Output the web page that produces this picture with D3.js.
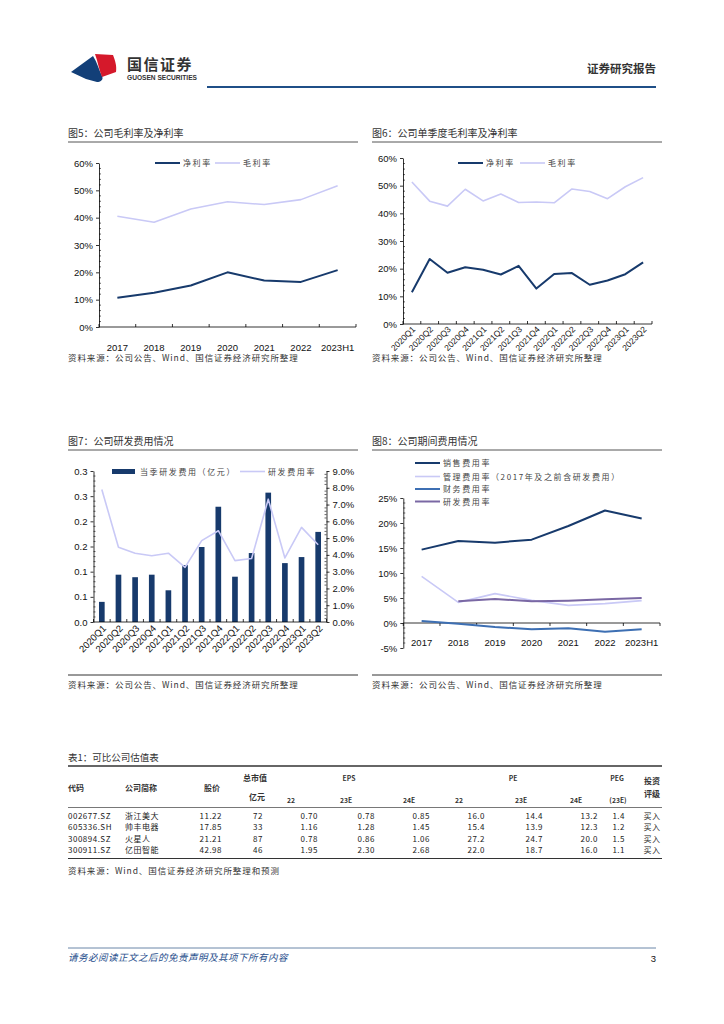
<!DOCTYPE html>
<html>
<head>
<meta charset="utf-8">
<script src="https://cdn.jsdelivr.net/npm/d3@7"></script>
<style>
body { margin: 0; background: #fff; }
</style>
</head>
<body>
<script>
// ---- data ----
const years = ['2017', '2018', '2019', '2020', '2021', '2022', '2023H1'];
const quarters = ['2020Q1', '2020Q2', '2020Q3', '2020Q4', '2021Q1', '2021Q2', '2021Q3',
    '2021Q4', '2022Q1', '2022Q2', '2022Q3', '2022Q4', '2023Q1', '2023Q2'];

// fig 5
const netMargin = [0.107, 0.125, 0.152, 0.200, 0.170, 0.165, 0.208];
const grossMargin = [0.405, 0.383, 0.432, 0.458, 0.448, 0.466, 0.517];

// fig 6
const qGrossMargin = [0.513, 0.444, 0.426, 0.487, 0.445, 0.470, 0.439, 0.441, 0.438, 0.488, 0.479, 0.453, 0.496, 0.529];
const qNetMargin = [0.115, 0.235, 0.185, 0.205, 0.196, 0.179, 0.210, 0.128, 0.181, 0.184, 0.142, 0.157, 0.180, 0.223];

// fig 7
const rdExpense = [0.040, 0.094, 0.089, 0.094, 0.063, 0.113, 0.149, 0.229, 0.090, 0.137, 0.257, 0.117, 0.129, 0.179];
const rdRate = [0.079, 0.0445, 0.041, 0.0395, 0.041, 0.0326, 0.0485, 0.0544, 0.0366, 0.0378, 0.0732, 0.0382, 0.0564, 0.046];
const rdLeftTicks = [0, 0.05, 0.10, 0.15, 0.20, 0.25, 0.30];
const rdLeftLabels = ['0.0', '0.1', '0.1', '0.2', '0.2', '0.3', '0.3'];

// fig 8
const sellRate = [0.1467, 0.164, 0.1607, 0.1667, 0.194, 0.225, 0.209];
const adminRate = [0.0933, 0.0413, 0.0587, 0.0453, 0.0353, 0.0387, 0.0447];
const finRate = [0.004, -0.0013, -0.008, -0.0127, -0.0107, -0.0173, -0.0127];
const rdRateYear = [null, 0.0433, 0.048, 0.0433, 0.0447, 0.0473, 0.050];

// table 1
const codes = ['002677.SZ', '605336.SH', '300894.SZ', '300911.SZ'];
const names = ['浙江美大', '帅丰电器', '火星人', '亿田智能'];
const prices = ['11.22', '17.85', '21.21', '42.98'];
const mktCap = ['72', '33', '87', '46'];
const eps22 = ['0.70', '1.16', '0.78', '1.95'];
const eps23 = ['0.78', '1.28', '0.86', '2.30'];
const eps24 = ['0.85', '1.45', '1.06', '2.68'];
const pe22 = ['16.0', '15.4', '27.2', '22.0'];
const pe23 = ['14.4', '13.9', '24.7', '18.7'];
const pe24 = ['13.2', '12.3', '20.0', '16.0'];
const peg = ['1.4', '1.2', '1.5', '1.1'];
const rating = ['买入', '买入', '买入', '买入'];

const CJK = '"Noto Sans CJK SC", sans-serif';
const LAT = '"Liberation Sans", Arial, sans-serif';
const navy = '#173a6c';
const lav = '#c9c9f6';
const source = '资料来源：公司公告、Wind、国信证券经济研究所整理';

const svg = d3.select('body').append('svg')
    .attr('width', 724)
    .attr('height', 1024);

function text(x, y, s, o = {}) {
    return svg.append('text')
        .attr('x', x).attr('y', y)
        .attr('font-family', o.font || CJK)
        .attr('font-size', o.size || 9)
        .attr('font-weight', o.weight || 'normal')
        .attr('font-style', o.style || 'normal')
        .attr('letter-spacing', o.ls || 0)
        .attr('text-anchor', o.anchor || 'start')
        .attr('fill', o.fill || '#222')
        .text(s);
}

function hline(x1, x2, y, color, w) {
    svg.append('line')
        .attr('x1', x1).attr('x2', x2).attr('y1', y).attr('y2', y)
        .attr('stroke', color).attr('stroke-width', w);
}

function title(x, y, w, s) {
    text(x, y, s, {size: 10, fill: '#333'});
    hline(x, x + w, y + 5, '#555', 1);
}

function yAxis(scale, x, values, fmt, side) {
    const ax = (side === 'right' ? d3.axisRight(scale) : d3.axisLeft(scale))
        .tickValues(values).tickFormat(fmt)
        .tickSize(3).tickSizeOuter(0).tickPadding(3);
    const g = svg.append('g').attr('transform', `translate(${x},0)`).call(ax);
    g.selectAll('text').attr('font-family', LAT).attr('font-size', 9.5).attr('fill', '#111');
    g.selectAll('line,path').attr('stroke', '#000').attr('stroke-width', 0.8);
    const step = (values[1] - values[0]) / 5;
    for (let i = 0; i < values.length - 1; i++) {
        for (let k = 1; k < 5; k++) {
            const v = scale(values[i] + k * step);
            g.append('line')
                .attr('x1', 0).attr('x2', side === 'right' ? -2 : 2)
                .attr('y1', v).attr('y2', v)
                .attr('stroke', '#000').attr('stroke-width', 0.6);
        }
    }
    return g;
}

function xAxis(scale, y, labelY, rotate, tickDir, fs, shift) {
    const r = scale.range();
    hline(r[0], r[1], y, '#000', 0.8);
    scale.domain().forEach(d => {
        svg.append('line')
            .attr('x1', scale(d)).attr('x2', scale(d))
            .attr('y1', y).attr('y2', y + 3 * tickDir)
            .attr('stroke', '#000').attr('stroke-width', 0.8);
    });
    svg.append('line')
        .attr('x1', r[1]).attr('x2', r[1])
        .attr('y1', y).attr('y2', y + 3 * tickDir)
        .attr('stroke', '#000').attr('stroke-width', 0.8);
    const g = svg.append('g')
        .attr('transform', `translate(0, ${labelY})`)
        .call(d3.axisBottom(scale).tickSize(0).tickPadding(0));
    g.select('.domain').remove();
    g.selectAll('text')
        .attr('font-family', LAT).attr('font-size', fs).attr('fill', '#111');
    if (rotate) {
        g.selectAll('text')
            .attr('dy', 0).attr('y', 0)
            .attr('transform', `translate(${shift[0]},${shift[1]}) rotate(-45)`)
            .style('text-anchor', 'end');
    }
}

function drawLine(x, y, data, cats, color, w) {
    const line = d3.line()
        .defined(d => d.v !== null)
        .x(d => x(d.c) + x.bandwidth() / 2)
        .y(d => y(d.v));
    svg.append('path')
        .datum(cats.map((c, i) => ({c: c, v: data[i]})))
        .attr('d', line)
        .attr('fill', 'none')
        .attr('stroke', color)
        .attr('stroke-width', w)
        .attr('stroke-linejoin', 'round');
}

function legendLine(x, y, color, w, label) {
    svg.append('line')
        .attr('x1', x).attr('x2', x + 25).attr('y1', y).attr('y2', y)
        .attr('stroke', color).attr('stroke-width', w);
    text(x + 28, y + 3, label, {size: 8, fill: '#444', ls: 1.6});
}

const pct0 = d => Math.round(d * 100) + '%';

// ---- header ----
svg.append('path')
    .attr('d', 'M71,72 L93,56 C97,62 99,70 102,76 C104,80 100,82 97,82 L86,79 Z')
    .attr('fill', '#123f78');
svg.append('path')
    .attr('d', 'M95,54 L113,55 C115,60 117,66 116,72 L102,77 C99,70 98,62 95,54 Z')
    .attr('fill', '#d5192b');
text(127, 70, '国信证券', {size: 15, fill: '#333', weight: 'bold', ls: 1.5});
text(127, 80, 'GUOSEN SECURITIES', {font: LAT, size: 6.6, fill: '#333', weight: 'bold'});
text(656, 73, '证券研究报告', {size: 11.5, weight: 'bold', anchor: 'end', fill: '#333'});
hline(207, 656, 87, '#1f4f87', 1.8);

// ---- fig 5 ----
title(68, 137, 290, '图5：公司毛利率及净利率');
{
    const x = d3.scaleBand().domain(years).range([99, 356]);
    const y = d3.scaleLinear().domain([0, 0.6]).range([327, 163]);
    yAxis(y, 99, d3.range(0, 0.61, 0.1), pct0);
    xAxis(x, 327, 344, false, -1, 9.5);
    drawLine(x, y, grossMargin, years, lav, 1.6);
    drawLine(x, y, netMargin, years, navy, 2);
    legendLine(155, 163, navy, 2, '净利率');
    legendLine(215, 163, lav, 1.6, '毛利率');
}
text(68, 361, source, {size: 8.5, fill: '#333', ls: 0.9});

// ---- fig 6 ----
title(372, 137, 290, '图6：公司单季度毛利率及净利率');
{
    const x = d3.scaleBand().domain(quarters).range([403, 652]);
    const y = d3.scaleLinear().domain([0, 0.6]).range([324, 158]);
    yAxis(y, 403, d3.range(0, 0.61, 0.1), pct0);
    xAxis(x, 324, 324, true, -1, 8.5, [4, 6]);
    drawLine(x, y, qGrossMargin, quarters, lav, 1.6);
    drawLine(x, y, qNetMargin, quarters, navy, 2);
    legendLine(458, 163, navy, 2, '净利率');
    legendLine(520, 163, lav, 1.6, '毛利率');
}
text(372, 361, source, {size: 8.5, fill: '#333', ls: 0.9});

// ---- fig 7 ----
title(68, 445, 290, '图7：公司研发费用情况');
{
    const x = d3.scaleBand().domain(quarters).range([93.5, 326.5]);
    const yL = d3.scaleLinear().domain([0, 0.30]).range([622, 471]);
    const yR = d3.scaleLinear().domain([0, 0.09]).range([622, 471]);
    yAxis(yL, 93.5, rdLeftTicks, (d, i) => rdLeftLabels[i]);
    yAxis(yR, 326.5, d3.range(0, 0.0901, 0.01), d3.format('.1%'), 'right');
    const bw = x.step() * 0.34;
    svg.append('g').selectAll('rect')
        .data(quarters)
        .enter()
        .append('rect')
        .attr('x', (d, i) => x(d) + x.bandwidth() / 2 - bw / 2)
        .attr('y', (d, i) => yL(rdExpense[i]))
        .attr('width', bw)
        .attr('height', (d, i) => 622 - yL(rdExpense[i]))
        .attr('fill', navy);
    xAxis(x, 622, 622, true, -1, 9.5, [5, 7]);
    drawLine(x, yR, rdRate, quarters, lav, 1.6);
    svg.append('rect')
        .attr('x', 112).attr('y', 469).attr('width', 23).attr('height', 5)
        .attr('fill', navy);
    text(140, 474.5, '当季研发费用（亿元）', {size: 8, fill: '#444', ls: 1.6});
    legendLine(240, 471.5, lav, 1.6, '研发费用率');
}
hline(68, 358, 675, '#333', 1);
text(68, 688, source, {size: 8.5, fill: '#333', ls: 0.9});

// ---- fig 8 ----
title(372, 445, 290, '图8：公司期间费用情况');
{
    const x = d3.scaleBand().domain(years).range([403.3, 660]);
    const y = d3.scaleLinear().domain([-0.05, 0.25]).range([648, 498]);
    yAxis(y, 403.3, d3.range(-0.05, 0.251, 0.05), pct0);
    xAxis(x, y(0), 639, false, 1, 9.5);
    drawLine(x, y, adminRate, years, lav, 1.6);
    drawLine(x, y, rdRateYear, years, '#7a68a4', 2);
    drawLine(x, y, finRate, years, '#3d6fb3', 2);
    drawLine(x, y, sellRate, years, navy, 2);
    legendLine(415, 463, navy, 2, '销售费用率');
    legendLine(415, 476.5, lav, 1.6, '管理费用率（2017年及之前含研发费用）');
    legendLine(415, 489, '#3d6fb3', 2, '财务费用率');
    legendLine(415, 501.5, '#7a68a4', 2, '研发费用率');
}
hline(372, 662, 675, '#333', 1);
text(372, 688, source, {size: 8.5, fill: '#333', ls: 0.9});

// ---- table 1 ----
text(68, 761, '表1：可比公司估值表', {size: 9.5, fill: '#333'});
hline(68, 662, 766, '#333', 1.5);
const hb = {size: 8, weight: 'bold', fill: '#333'};
const hs = Object.assign({}, hb, {size: 6.8});
text(68, 791, '代码', hb);
text(125, 791, '公司简称', hb);
text(212, 791, '股价', Object.assign({anchor: 'middle'}, hb));
text(255, 781, '总市值', Object.assign({anchor: 'middle'}, hb));
text(257, 800, '亿元', Object.assign({anchor: 'middle'}, hb));
text(349, 781, 'EPS', Object.assign({anchor: 'middle'}, hs));
text(513, 781, 'PE', Object.assign({anchor: 'middle'}, hs));
text(617, 781, 'PEG', Object.assign({anchor: 'middle'}, hs));
text(287, 803, '22', hs);
text(340, 803, '23E', hs);
text(403, 803, '24E', hs);
text(455, 803, '22', hs);
text(515, 803, '23E', hs);
text(570, 803, '24E', hs);
text(618, 803, '(23E)', Object.assign({anchor: 'middle'}, hs));
text(652, 784, '投资', Object.assign({anchor: 'middle'}, hb));
text(652, 797, '评级', Object.assign({anchor: 'middle'}, hb));
hline(68, 662, 807.5, '#555', 0.8);

const tableCols = [
    {vals: codes, x: 68, anchor: 'start'},
    {vals: names, x: 125, anchor: 'start'},
    {vals: prices, x: 222, anchor: 'end'},
    {vals: mktCap, x: 263, anchor: 'end'},
    {vals: eps22, x: 318, anchor: 'end'},
    {vals: eps23, x: 375, anchor: 'end'},
    {vals: eps24, x: 430, anchor: 'end'},
    {vals: pe22, x: 485, anchor: 'end'},
    {vals: pe23, x: 543, anchor: 'end'},
    {vals: pe24, x: 598, anchor: 'end'},
    {vals: peg, x: 625, anchor: 'end'},
    {vals: rating, x: 652, anchor: 'middle'}
];
const rowY = [818.5, 830, 841.5, 853];
tableCols.forEach(col => {
    col.vals.forEach((v, i) => {
        text(col.x, rowY[i], v, {size: 8, anchor: col.anchor, fill: '#222', ls: 0.5});
    });
});
hline(68, 662, 858.5, '#333', 1.2);
text(68, 874, '资料来源：Wind、国信证券经济研究所整理和预测', {size: 8.5, fill: '#333', ls: 0.9});

// ---- footer ----
hline(68, 656, 948, '#6a86a8', 1);
text(68, 961, '请务必阅读正文之后的免责声明及其项下所有内容', {size: 9.5, fill: '#1f4e8c', style: 'italic', ls: 0.5});
text(656, 962, '3', {font: LAT, size: 9.5, anchor: 'end', fill: '#111'});
</script>
</body>
</html>
